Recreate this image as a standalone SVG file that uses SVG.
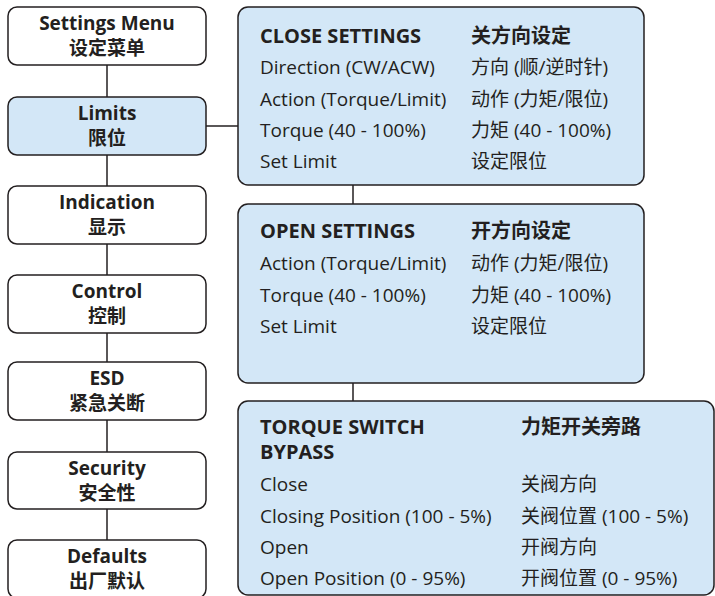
<svg xmlns="http://www.w3.org/2000/svg" width="715" height="596" viewBox="0 0 715 596">
<style>
.box{fill:#ffffff;stroke:#231f20;stroke-width:1.5}
.sel{fill:#d3e7f7;stroke:#231f20;stroke-width:1.5}
.pan{fill:#d3e7f7;stroke:#231f20;stroke-width:1.5}
.ln{stroke:#231f20;stroke-width:1.5;fill:none}
.bt{font-family:"Open Sans","Noto Sans CJK SC",sans-serif;font-weight:bold;font-size:19px;fill:#231f20;text-anchor:middle}
.h{font-family:"Open Sans","Noto Sans CJK SC",sans-serif;font-weight:bold;font-size:20px;fill:#231f20}
.t{font-family:"Open Sans","Noto Sans CJK SC",sans-serif;font-size:19px;fill:#231f20}
</style>
<rect width="715" height="596" fill="#ffffff"/>
<g id="connectors">
<line class="ln" x1="107" y1="65" x2="107" y2="97"/>
<line class="ln" x1="107" y1="155" x2="107" y2="186"/>
<line class="ln" x1="107" y1="244" x2="107" y2="275"/>
<line class="ln" x1="107" y1="333" x2="107" y2="362"/>
<line class="ln" x1="107" y1="420" x2="107" y2="452"/>
<line class="ln" x1="107" y1="509" x2="107" y2="540"/>
<line class="ln" x1="206" y1="126" x2="238" y2="126"/>
<line class="ln" x1="353" y1="185" x2="353" y2="204"/>
<line class="ln" x1="353" y1="383" x2="353" y2="401"/>
</g>
<g id="settings-menu">
<rect class="box" x="8" y="7" width="198" height="58" rx="9"/>
<text class="bt" x="107" y="30">Settings Menu</text>
<text class="bt" x="107" y="55">设定菜单</text>
</g>
<g id="limits">
<rect class="sel" x="8" y="97" width="198" height="58" rx="9"/>
<text class="bt" x="107" y="120">Limits</text>
<text class="bt" x="107" y="145">限位</text>
</g>
<g id="indication">
<rect class="box" x="8" y="186" width="198" height="58" rx="9"/>
<text class="bt" x="107" y="209">Indication</text>
<text class="bt" x="107" y="234">显示</text>
</g>
<g id="control">
<rect class="box" x="8" y="275" width="198" height="58" rx="9"/>
<text class="bt" x="107" y="298">Control</text>
<text class="bt" x="107" y="323">控制</text>
</g>
<g id="esd">
<rect class="box" x="8" y="362" width="198" height="58" rx="9"/>
<text class="bt" x="107" y="385">ESD</text>
<text class="bt" x="107" y="410">紧急关断</text>
</g>
<g id="security">
<rect class="box" x="8" y="452" width="198" height="57" rx="9"/>
<text class="bt" x="107" y="475">Security</text>
<text class="bt" x="107" y="500">安全性</text>
</g>
<g id="defaults">
<rect class="box" x="8" y="540" width="198" height="58" rx="9"/>
<text class="bt" x="107" y="563">Defaults</text>
<text class="bt" x="107" y="588">出厂默认</text>
</g>
<g id="close-settings">
<rect class="pan" x="238" y="7" width="406" height="178" rx="10"/>
<text class="h" x="260" y="43">CLOSE SETTINGS</text>
<text class="h" x="471" y="43">关方向设定</text>
<text class="t" x="260" y="74">Direction (CW/ACW)</text>
<text class="t" x="471" y="74">方向 (顺/逆时针)</text>
<text class="t" x="260" y="106">Action (Torque/Limit)</text>
<text class="t" x="471" y="106">动作 (力矩/限位)</text>
<text class="t" x="260" y="137">Torque (40 - 100%)</text>
<text class="t" x="471" y="137">力矩 (40 - 100%)</text>
<text class="t" x="260" y="168">Set Limit</text>
<text class="t" x="471" y="168">设定限位</text>
</g>
<g id="open-settings">
<rect class="pan" x="238" y="204" width="406" height="179" rx="10"/>
<text class="h" x="260" y="238">OPEN SETTINGS</text>
<text class="h" x="471" y="238">开方向设定</text>
<text class="t" x="260" y="270">Action (Torque/Limit)</text>
<text class="t" x="471" y="270">动作 (力矩/限位)</text>
<text class="t" x="260" y="302">Torque (40 - 100%)</text>
<text class="t" x="471" y="302">力矩 (40 - 100%)</text>
<text class="t" x="260" y="333">Set Limit</text>
<text class="t" x="471" y="333">设定限位</text>
</g>
<g id="torque-switch-bypass">
<rect class="pan" x="238" y="401" width="476" height="194" rx="10"/>
<text class="h" x="260" y="434">TORQUE SWITCH</text>
<text class="h" x="260" y="459">BYPASS</text>
<text class="h" x="521" y="434">力矩开关旁路</text>
<text class="t" x="260" y="491">Close</text>
<text class="t" x="521" y="491">关阀方向</text>
<text class="t" x="260" y="523">Closing Position (100 - 5%)</text>
<text class="t" x="521" y="523">关阀位置 (100 - 5%)</text>
<text class="t" x="260" y="554">Open</text>
<text class="t" x="521" y="554">开阀方向</text>
<text class="t" x="260" y="585">Open Position (0 - 95%)</text>
<text class="t" x="521" y="585">开阀位置 (0 - 95%)</text>
</g>
</svg>
